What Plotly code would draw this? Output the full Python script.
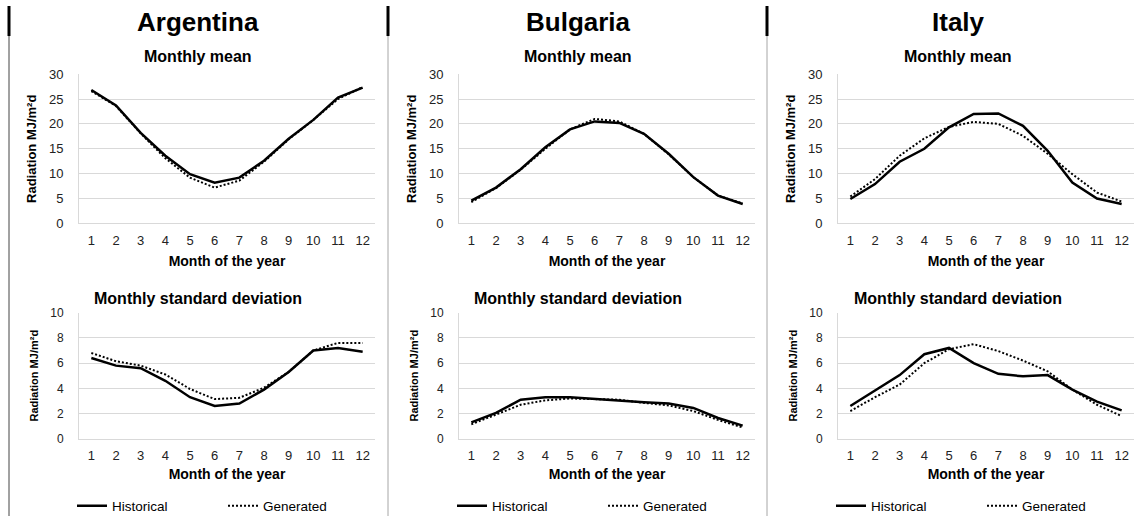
import plotly.graph_objects as go

# Month of the year (category axis)
months = list(range(1, 13))
month_labels = [str(m) for m in months]

# Monthly mean radiation, MJ/m2d
arg_mean_hist = [26.8, 23.7, 18.2, 13.6, 9.9, 8.2, 9.2, 12.6, 17.0, 20.8, 25.3, 27.3]
arg_mean_gen = [26.6, 23.6, 18.1, 13.1, 9.2, 7.2, 8.6, 12.4, 16.9, 20.8, 25.0, 27.4]
bul_mean_hist = [4.6, 7.2, 10.9, 15.3, 18.9, 20.5, 20.2, 18.0, 14.0, 9.3, 5.6, 3.9]
bul_mean_gen = [4.3, 7.1, 10.8, 15.0, 18.9, 21.0, 20.5, 18.0, 13.9, 9.3, 5.6, 4.0]
ita_mean_hist = [4.9, 7.9, 12.4, 15.0, 19.3, 22.0, 22.1, 19.6, 14.6, 8.2, 5.0, 3.9]
ita_mean_gen = [5.4, 8.9, 13.6, 17.1, 19.4, 20.4, 20.0, 17.6, 14.0, 9.9, 6.2, 4.4]

# Monthly standard deviation, MJ/m2d
arg_sd_hist = [6.4, 5.8, 5.6, 4.6, 3.3, 2.6, 2.8, 3.9, 5.3, 7.0, 7.2, 6.9]
arg_sd_gen = [6.8, 6.15, 5.8, 5.1, 3.95, 3.15, 3.25, 4.05, 5.3, 7.0, 7.6, 7.6]
bul_sd_hist = [1.3, 2.05, 3.1, 3.3, 3.3, 3.15, 3.0, 2.9, 2.8, 2.45, 1.65, 1.05]
bul_sd_gen = [1.15, 1.9, 2.7, 3.05, 3.2, 3.15, 3.1, 2.85, 2.65, 2.2, 1.5, 0.9]
ita_sd_hist = [2.6, 3.8, 5.05, 6.7, 7.2, 6.0, 5.15, 4.95, 5.05, 3.9, 2.95, 2.25]
ita_sd_gen = [2.2, 3.3, 4.3, 6.0, 7.1, 7.5, 6.95, 6.2, 5.35, 3.9, 2.7, 1.8]

countries = ["Argentina", "Bulgaria", "Italy"]
series_names = ["Historical", "Generated"]
mean_ticks = [0, 5, 10, 15, 20, 25, 30]
sd_ticks = [0, 2, 4, 6, 8, 10]

W, H = 1143, 524
FONT = "Liberation Sans, Arial, sans-serif"
GRID = "#d9d9d9"

# vertical placement: the page shows the figure inside an 8px band top and
# bottom, so layout positions are given in page pixels and mapped back here
PAGE_TOP, PAGE_SCALE = 8, 508 / 524


def px_x(p):
    return p / W


def px_y(p):
    return 1 - ((p - PAGE_TOP) / PAGE_SCALE) / H


# Column layout in pixels: left edge of each plot area and column centre
plot_left = [79, 459, 838]
plot_w = 296
col_center = [198, 578, 958]
col_sep = [9, 388, 767]

top_dom = [px_y(224), px_y(75)]
bot_dom = [px_y(439), px_y(313)]

data = [
    (arg_mean_hist, arg_mean_gen, arg_sd_hist, arg_sd_gen),
    (bul_mean_hist, bul_mean_gen, bul_sd_hist, bul_sd_gen),
    (ita_mean_hist, ita_mean_gen, ita_sd_hist, ita_sd_gen),
]

fig = go.Figure()
layout = {}
annotations = []
shapes = []

for c, name in enumerate(countries):
    mh, mg, sh, sg = data[c]
    xdom = [px_x(plot_left[c]), px_x(plot_left[c] + plot_w)]
    legend_key = "legend" if c == 0 else f"legend{c + 1}"
    for r, (hist, gen, ydom, yticks, yrng, fs, tfs, xso) in enumerate([
        (mh, mg, top_dom, mean_ticks, [0, 30], 13, 13, 9),
        (sh, sg, bot_dom, sd_ticks, [0, 10], 12, 11, 6),
    ]):
        idx = c * 2 + r + 1
        sfx = "" if idx == 1 else str(idx)
        xa, ya = "x" + sfx, "y" + sfx
        fig.add_trace(go.Scatter(
            x=months, y=hist, mode="lines", name=series_names[0],
            line=dict(color="black", width=2.5),
            xaxis=xa, yaxis=ya, legend=legend_key, showlegend=(r == 0),
        ))
        fig.add_trace(go.Scatter(
            x=months, y=gen, mode="lines", name=series_names[1],
            line=dict(color="black", width=2, dash="2px,2px"),
            xaxis=xa, yaxis=ya, legend=legend_key, showlegend=(r == 0),
        ))
        layout["xaxis" + sfx] = dict(
            domain=xdom, anchor=ya, range=[0.5, 12.5],
            tickvals=months, ticktext=month_labels,
            showgrid=False, zeroline=False, showline=True, linecolor=GRID,
            linewidth=1, ticks="", tickfont=dict(family=FONT, size=13, color="#222"),
            ticklabelstandoff=5, fixedrange=True, automargin=True,
            title=dict(text="<b>Month of the year</b>", standoff=xso,
                       font=dict(family=FONT, size=14, color="black")),
        )
        layout["yaxis" + sfx] = dict(
            domain=ydom, anchor=xa, range=yrng, tickvals=yticks,
            showgrid=True, gridcolor=GRID, gridwidth=1, zeroline=False,
            showline=True, linecolor=GRID, linewidth=1, ticks="",
            tickfont=dict(family=FONT, size=fs, color="#222"),
            ticklabelstandoff=12, fixedrange=True, automargin=True,
            title=dict(text="<b>Radiation MJ/m²d</b>", standoff=9,
                       font=dict(family=FONT, size=tfs, color="black")),
        )
        annotations.append(dict(
            text="<b>Monthly mean</b>" if r == 0 else "<b>Monthly standard deviation</b>",
            x=px_x(col_center[c]), y=px_y(57 if r == 0 else 299),
            xref="paper", yref="paper", showarrow=False,
            font=dict(family=FONT, size=16, color="black"),
            xanchor="center", yanchor="middle",
        ))
    # country heading
    annotations.append(dict(
        text=f"<b>{name}</b>", x=px_x(col_center[c]), y=px_y(23),
        xref="paper", yref="paper", showarrow=False,
        font=dict(family=FONT, size=26, color="black"),
        xanchor="center", yanchor="middle",
    ))
    # column separators
    shapes.append(dict(type="line", xref="paper", yref="paper",
                       x0=px_x(col_sep[c]), x1=px_x(col_sep[c]),
                       y0=px_y(7), y1=px_y(37), line=dict(color="black", width=3)))
    shapes.append(dict(type="line", xref="paper", yref="paper",
                       x0=px_x(col_sep[c]), x1=px_x(col_sep[c]),
                       y0=px_y(37), y1=0,
                       line=dict(color="#444" if c == 0 else "#a6a6a6", width=1)))
    layout[legend_key] = dict(
        x=px_x(plot_left[c] - 7), y=px_y(506), xanchor="left", yanchor="middle",
        orientation="h", itemwidth=30, entrywidth=106, bgcolor="rgba(0,0,0,0)",
        font=dict(family=FONT, size=13.5, color="black"), itemclick=False,
        itemdoubleclick=False,
    )

fig.update_layout(
    width=W, height=H, margin=dict(l=0, r=0, t=0, b=0),
    paper_bgcolor="white", plot_bgcolor="white",
    annotations=annotations, shapes=shapes, **layout,
)

fig.write_html("out.html", config={"displayModeBar": False})
